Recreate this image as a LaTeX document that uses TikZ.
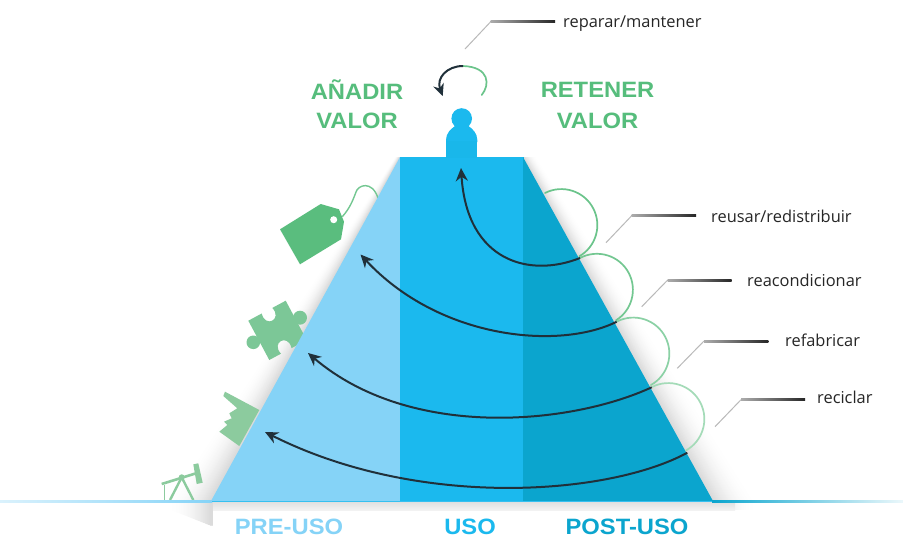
\documentclass[tikz,border=0pt]{standalone}
\usepackage{fontspec}
\setmainfont{Liberation Sans}
\newfontfamily\labelfont{Open Sans}
\newfontfamily\widebold[FakeStretch=1.07]{Liberation Sans}
\usetikzlibrary{arrows.meta}
\definecolor{lightblue}{HTML}{85D3F7}
\definecolor{midblue}{HTML}{1BB9EE}
\definecolor{darkblue}{HTML}{0BA5CE}
\definecolor{headgreen}{HTML}{56BD7C}
\definecolor{tagreen}{HTML}{5ABD7E}
\definecolor{puzzlegreen}{HTML}{7CC797}
\definecolor{paler}{HTML}{8CCB9E}
\definecolor{ink}{HTML}{20303A}
\tikzset{
  heading/.style={font=\widebold\bfseries\fontsize{22.2}{24}\selectfont, text=headgreen, inner sep=0pt, anchor=center},
  stagetext/.style={font=\widebold\bfseries\fontsize{22.2}{24}\selectfont, inner sep=0pt, anchor=center},
  looplabel/.style={font=\labelfont\fontsize{16.4}{18}\selectfont, text=black!85, inner sep=0pt, anchor=west},
  flowarrow/.style={draw=ink, line width=2pt, -{Stealth[length=13pt,width=12pt]}},
  loopline/.style={line width=1.7pt, line cap=round},
  leaderslant/.style={draw=gray!55, line width=1pt},
}
\newcommand{\leader}[4]{% slant start, knee x, knee y, end x
  \draw[leaderslant] (#1) -- (#2,#3);
  \shade[left color=gray!65, right color=black!85] (#2,#3-1) rectangle (#4,#3+1);
}
\begin{document}
\begin{tikzpicture}[x=1pt,y=-1pt]
\useasboundingbox (0,0) rectangle (903,539);
\fill[white] (0,0) rectangle (903,539);

% soft shadow around the pyramid: nested solid strips, from far to near
\foreach \k in {44,43,...,1} {
  \pgfmathsetmacro{\shadeval}{15*pow((44-\k)/44,2)}
  \fill[black!\shadeval!white] (400-\k*0.1,157) -- (211-\k,501) -- (211-\k,526-\k*0.4) -- (420,532) -- (420,157) -- cycle;
  \fill[black!\shadeval!white] (523+\k*0.3,157) -- (713+\k,501) -- (713+\k,511) -- (500,511) -- (500,157) -- cycle;
}
\fill[white] (213,510) rectangle (903,539);
\shade[top color=black!12, bottom color=black!5] (213,502) rectangle (735,510);

% icons
\fill[tagreen] (280,229.3) -- (320.7,204) -- (339,209.3) -- (344,221.7) -- (341,239.3) -- (300,264.3) -- cycle;
\fill[white] (333.7,219.7) circle (3.5);
\draw[tagreen!85, line width=1.4pt] (342.3,216.7) .. controls (350,208) and (353,200) .. (356,192)
  .. controls (358,185) and (372,180) .. (378,198);

\fill[puzzlegreen] (248.3,320.7) -- (261.7,313.5) .. controls (265.3,328.6) and (282.9,319.2) .. (272.3,307.9)
  -- (285.7,300.7) -- (306.7,340) -- (291.6,348.1) .. controls (288,333) and (270.4,342.4) .. (281,353.7)
  -- (269.3,360) -- cycle;
\fill[puzzlegreen] (253.3,342.3) circle (6.8);
\fill[puzzlegreen] (300,317.7) circle (7);

\fill[paler] (225,391.7) -- (259.3,410) -- (239.3,446) -- (219.3,431.7) -- (227.3,425) -- (224,421.7)
  -- (231.7,418.3) -- (229.3,413.3) -- (237.3,408.3) -- (223.3,396) -- cycle;

\begin{scope}[paler]
\draw[line width=2.6pt] (161.7,484) -- (197,473);
\fill (193.3,464.3) -- (198.3,463.3) -- (202.7,482.7) -- (196.7,484) -- cycle;
\draw[line width=2.4pt] (181.7,477.3) -- (170,500);
\draw[line width=2.4pt] (181.7,477.3) -- (193.3,500);
\draw[line width=1pt] (164,485) -- (164,500);
\fill (181.7,477.3) circle (3);
\end{scope}

% pyramid
\fill[lightblue] (400,157) -- (211,501) -- (400.5,501) -- (400.5,157) -- cycle;
\fill[midblue] (400,157) rectangle (523.5,501);
\fill[darkblue] (523,157) -- (713,501) -- (523,501) -- cycle;

% base line
\shade[left color=lightblue!30, right color=lightblue] (0,500) rectangle (212,502);
\shade[left color=darkblue, right color=darkblue!8] (712,500) rectangle (903,502);
\fill[midblue!75!lightblue] (212,501) rectangle (712,502.4);

% pawn
\fill[midblue] (461.7,118.5) circle (10.3);
\fill[midblue] (446,142) -- (446,140) .. controls (446,133) and (451,129) .. (455,126) -- (468.5,126)
  .. controls (472.5,129) and (477.3,133) .. (477.3,140) -- (477.3,142) -- cycle;
\fill[midblue!88!darkblue] (446,141) rectangle (477.3,157.5);

% loop coordinates on the right edge and arrow ends on the left
\coordinate (e1) at (580,258);
\coordinate (e2) at (616.7,321.7);
\coordinate (e3) at (651.7,387.3);
\coordinate (e4) at (687.3,452.7);
\coordinate (t1) at (461,168);
\coordinate (t2) at (360.5,254.5);
\coordinate (t3) at (308,353);
\coordinate (t4) at (265,432);

% green loops
\draw[loopline, draw=tagreen!90] (545,193) arc[start angle=-117,end angle=60,radius=36];
\draw[loopline, draw=tagreen!85!white] (580,258) arc[start angle=-118,end angle=58,radius=36];
\draw[loopline, draw=tagreen!70!white] (617,321.5) arc[start angle=-117,end angle=61,radius=36];
\draw[loopline, draw=tagreen!55!white] (652,387) arc[start angle=-117,end angle=61,radius=36];

% flow arrows
\draw[flowarrow] (e1) .. controls (530,278) and (467,262) .. (t1);
\draw[flowarrow] (e2) .. controls (560,350) and (440,340) .. (t2);
\draw[flowarrow] (e3) .. controls (570,425) and (410,440) .. (t3);
\draw[flowarrow] (e4) .. controls (610,495) and (420,510) .. (t4);

% repair loop on top
\draw[loopline, draw=tagreen!90] (481.7,95) .. controls (490,85) and (490,67) .. (463,66);
\draw[line width=2pt, draw=ink, -{Stealth[length=12pt,width=11pt]}] (463,66) .. controls (447,66) and (436,78) .. (442.7,96);

% leaders and labels
\coordinate (l0) at (465,49);
\coordinate (l1) at (606,242.7);
\coordinate (l2) at (641.7,306.7);
\coordinate (l3) at (677.3,368.3);
\coordinate (l4) at (715,426.7);
\leader{l0}{490.7}{21.7}{555}
\leader{l1}{631.7}{215.7}{696}
\leader{l2}{667.7}{280}{731.7}
\leader{l3}{704}{341}{768.3}
\leader{l4}{741}{399.7}{805}
\node[looplabel] (lab0) at (563,23.5) {reparar/mantener};
\node[looplabel] (lab1) at (711,216) {reusar/redistribuir};
\node[looplabel] (lab2) at (747,280) {reacondicionar};
\node[looplabel] (lab3) at (785,340) {refabricar};
\node[looplabel] (lab4) at (817,397.5) {reciclar};

% headings
\node[heading] (h1) at (357,90) {AÑADIR};
\node[heading] (h2) at (357,120.5) {VALOR};
\node[heading] (h3) at (597.5,90) {RETENER};
\node[heading] (h4) at (597.5,120.5) {VALOR};

% stages
\node[stagetext, text=lightblue] (s1) at (289,526.5) {PRE-USO};
\node[stagetext, text=midblue] (s2) at (470,526.5) {USO};
\node[stagetext, text=darkblue] (s3) at (627,526.5) {POST-USO};
\end{tikzpicture}
\end{document}
